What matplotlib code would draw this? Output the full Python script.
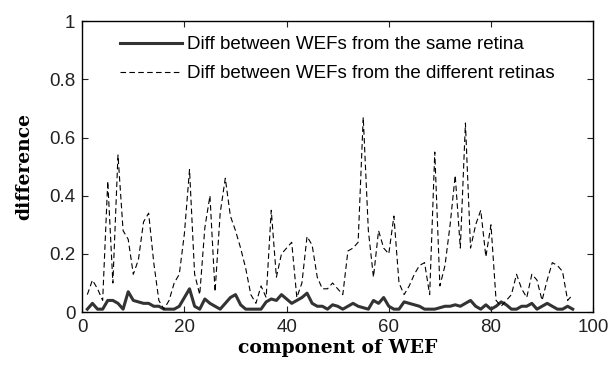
import matplotlib
matplotlib.use('Agg')
import matplotlib.pyplot as plt
import numpy as np

# 数据：WEF 分量差异
components = np.arange(1, 97)
diff_same = [
    0.01, 0.03, 0.01, 0.01, 0.04, 0.04, 0.03, 0.01, 0.07, 0.04,
    0.035, 0.03, 0.03, 0.02, 0.02, 0.01, 0.01, 0.01, 0.02, 0.05,
    0.08, 0.02, 0.01, 0.045, 0.03, 0.02, 0.01, 0.03, 0.05, 0.06,
    0.025, 0.01, 0.01, 0.01, 0.01, 0.035, 0.045, 0.04, 0.06, 0.045,
    0.03, 0.04, 0.05, 0.065, 0.03, 0.02, 0.02, 0.01, 0.025, 0.02,
    0.01, 0.02, 0.03, 0.02, 0.015, 0.01, 0.04, 0.03, 0.05, 0.02,
    0.01, 0.01, 0.035, 0.03, 0.025, 0.02, 0.01, 0.01, 0.01, 0.015,
    0.02, 0.02, 0.025, 0.02, 0.03, 0.04, 0.02, 0.01, 0.025, 0.01,
    0.02, 0.035, 0.025, 0.01, 0.01, 0.02, 0.02, 0.03, 0.01, 0.02,
    0.03, 0.02, 0.01, 0.01, 0.02, 0.01,
]
diff_different = [
    0.06, 0.11, 0.08, 0.04, 0.45, 0.10, 0.54, 0.28, 0.25, 0.13,
    0.18, 0.31, 0.34, 0.17, 0.04, 0.01, 0.04, 0.10, 0.13, 0.27,
    0.49, 0.13, 0.06, 0.29, 0.40, 0.07, 0.34, 0.46, 0.33, 0.28,
    0.22, 0.15, 0.06, 0.03, 0.09, 0.05, 0.35, 0.12, 0.20, 0.22,
    0.24, 0.05, 0.10, 0.26, 0.23, 0.12, 0.08, 0.08, 0.10, 0.08,
    0.06, 0.21, 0.22, 0.24, 0.67, 0.28, 0.12, 0.28, 0.22, 0.20,
    0.33, 0.10, 0.06, 0.09, 0.13, 0.16, 0.17, 0.06, 0.55, 0.09,
    0.16, 0.30, 0.47, 0.22, 0.65, 0.22, 0.30, 0.35, 0.19, 0.30,
    0.04, 0.02, 0.04, 0.06, 0.13, 0.08, 0.05, 0.13, 0.11, 0.04,
    0.11, 0.17, 0.16, 0.14, 0.04, 0.06,
]
x_ticks = [0, 20, 40, 60, 80, 100]
y_ticks = [0, 0.2, 0.4, 0.6, 0.8, 1]
y_ticklabels = ['0', '0.2', '0.4', '0.6', '0.8', '1']

fig = plt.figure(figsize=(6.09, 3.65), dpi=100)
ax = fig.add_axes([0.135, 0.145, 0.839, 0.797])

ax.plot(components, diff_same, color='#333333', linewidth=2.2,
        label='Diff between WEFs from the same retina')
ax.plot(components, diff_different, color='black', linewidth=0.8,
        linestyle=(0, (5, 3)),
        label='Diff between WEFs from the different retinas')

ax.set_xlim(0, 100)
ax.set_ylim(0, 1)
ax.set_xticks(x_ticks)
ax.set_yticks(y_ticks)
ax.set_yticklabels(y_ticklabels)
ax.tick_params(direction='in', top=True, right=True, length=4,
               labelsize=13.5, pad=5, colors='#222222')
for lab in ax.get_xticklabels() + ax.get_yticklabels():
    lab.set_family('Liberation Sans')

for spine in ax.spines.values():
    spine.set_linewidth(1.0)

ax.set_xlabel('component of WEF', fontsize=13.5, fontweight='bold',
              family='DejaVu Serif', labelpad=2)
ax.set_ylabel('difference', fontsize=13.5, fontweight='bold',
              family='DejaVu Serif', labelpad=11)

ax.legend(loc='upper left', bbox_to_anchor=(0.074, 0.948), frameon=False,
          handlelength=3.3, handletextpad=0.28, labelspacing=0.62,
          borderaxespad=0, borderpad=0,
          prop={'family': 'Liberation Sans', 'size': 13.5})

fig.savefig('out.png', dpi=100, facecolor='white')
